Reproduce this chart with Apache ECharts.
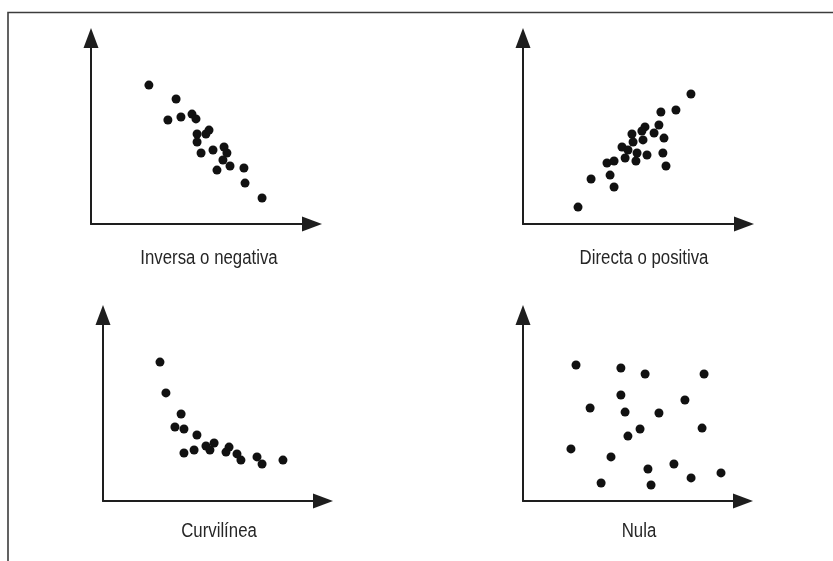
<!DOCTYPE html>
<html>
<head>
<meta charset="utf-8">
<title>Tipos de correlación</title>
<script src="https://cdn.jsdelivr.net/npm/echarts@6/dist/echarts.min.js"></script>
<style>
  html, body { margin: 0; padding: 0; background: #fff; }
  #chart { width: 833px; height: 561px; }
</style>
</head>
<body>
<div id="chart"></div>
<script>
// panel titles
const titles = ['Inversa o negativa', 'Directa o positiva', 'Curvilínea', 'Nula'];

// points, axis units 0..100
const inversa = [
  [26.2, 74.7], [38.5, 67.2], [34.8, 55.9], [40.7, 57.5], [45.7, 59.1],
  [47.5, 56.5], [48.0, 48.4], [52.0, 48.4], [53.4, 50.5], [48.0, 44.1],
  [49.8, 38.2], [55.2, 39.8], [60.2, 41.4], [61.5, 38.2], [59.7, 34.4],
  [57.0, 29.0], [62.9, 31.2], [69.2, 30.1], [69.7, 22.0], [77.4, 14.0]
];
const directa = [
  [76.0, 69.9], [69.2, 61.3], [62.4, 60.2], [61.5, 53.2], [55.2, 52.2],
  [53.8, 50.0], [59.3, 48.9], [49.3, 48.4], [49.8, 44.1], [54.3, 45.2],
  [63.8, 46.2], [44.8, 41.4], [47.5, 39.8], [51.6, 38.2], [56.1, 37.1],
  [63.3, 38.2], [46.2, 35.5], [51.1, 33.9], [38.0, 32.8], [41.2, 33.9],
  [64.7, 31.2], [30.8, 24.2], [39.4, 26.3], [41.2, 19.9], [24.9, 9.1]
];
const curvilinea = [
  [25.9, 74.7], [28.6, 58.1], [35.5, 46.8], [32.7, 39.8], [36.8, 38.7],
  [42.7, 35.5], [46.8, 29.6], [50.5, 31.2], [48.6, 27.4], [41.4, 27.4],
  [36.8, 25.8], [57.3, 29.0], [55.9, 26.3], [60.9, 25.3], [62.7, 22.0],
  [70.0, 23.7], [72.3, 19.9], [81.8, 22.0]
];
const nula = [
  [24.1, 73.1], [44.5, 71.5], [55.5, 68.3], [82.3, 68.3], [44.5, 57.0],
  [73.6, 54.3], [30.5, 50.0], [46.4, 47.8], [61.8, 47.3], [53.2, 38.7],
  [81.4, 39.2], [47.7, 34.9], [21.8, 28.0], [40.0, 23.7], [56.8, 17.2],
  [68.6, 19.9], [90.0, 15.1], [35.5, 9.7], [58.2, 8.6], [76.4, 12.4]
];

const allData = [inversa, directa, curvilinea, nula];

const grids = [
  { left: 91, top: 38, width: 221, height: 186 },
  { left: 523, top: 38, width: 221, height: 186 },
  { left: 103, top: 315, width: 220, height: 186 },
  { left: 523, top: 315, width: 220, height: 186 }
];
const titlePos = [[209, 258], [644, 258], [219, 531], [639, 531]];

const axisBase = {
  type: 'value',
  min: 0,
  max: 100,
  axisLine: {
    show: true,
    lineStyle: { color: '#1e1e1e', width: 2 },
    symbol: ['none', 'triangle'],
    symbolSize: [15, 20]
  },
  axisTick: { show: false },
  axisLabel: { show: false },
  splitLine: { show: false }
};

const chart = echarts.init(document.getElementById('chart'));

chart.setOption({
  animation: false,
  backgroundColor: '#fff',
  grid: grids,
  xAxis: grids.map((g, i) => Object.assign({ gridIndex: i }, axisBase)),
  yAxis: grids.map((g, i) => Object.assign({ gridIndex: i }, axisBase)),
  series: allData.map((d, i) => ({
    type: 'scatter',
    xAxisIndex: i,
    yAxisIndex: i,
    data: d,
    symbolSize: 9,
    itemStyle: { color: '#111', opacity: 1 }
  })),
  graphic: [
    {
      type: 'polyline',
      shape: { points: [[8, 561], [8, 12.5], [833, 12.5]] },
      style: { stroke: '#3c3c3c', lineWidth: 1.6, fill: null }
    }
  ].concat(titles.map((t, i) => ({
    type: 'text',
    x: titlePos[i][0],
    y: titlePos[i][1],
    scaleX: 0.84,
    style: {
      text: t,
      fill: '#262626',
      font: '20px "Liberation Sans", Arial, sans-serif',
      textAlign: 'center',
      textVerticalAlign: 'middle'
    }
  })))
});
</script>
</body>
</html>
